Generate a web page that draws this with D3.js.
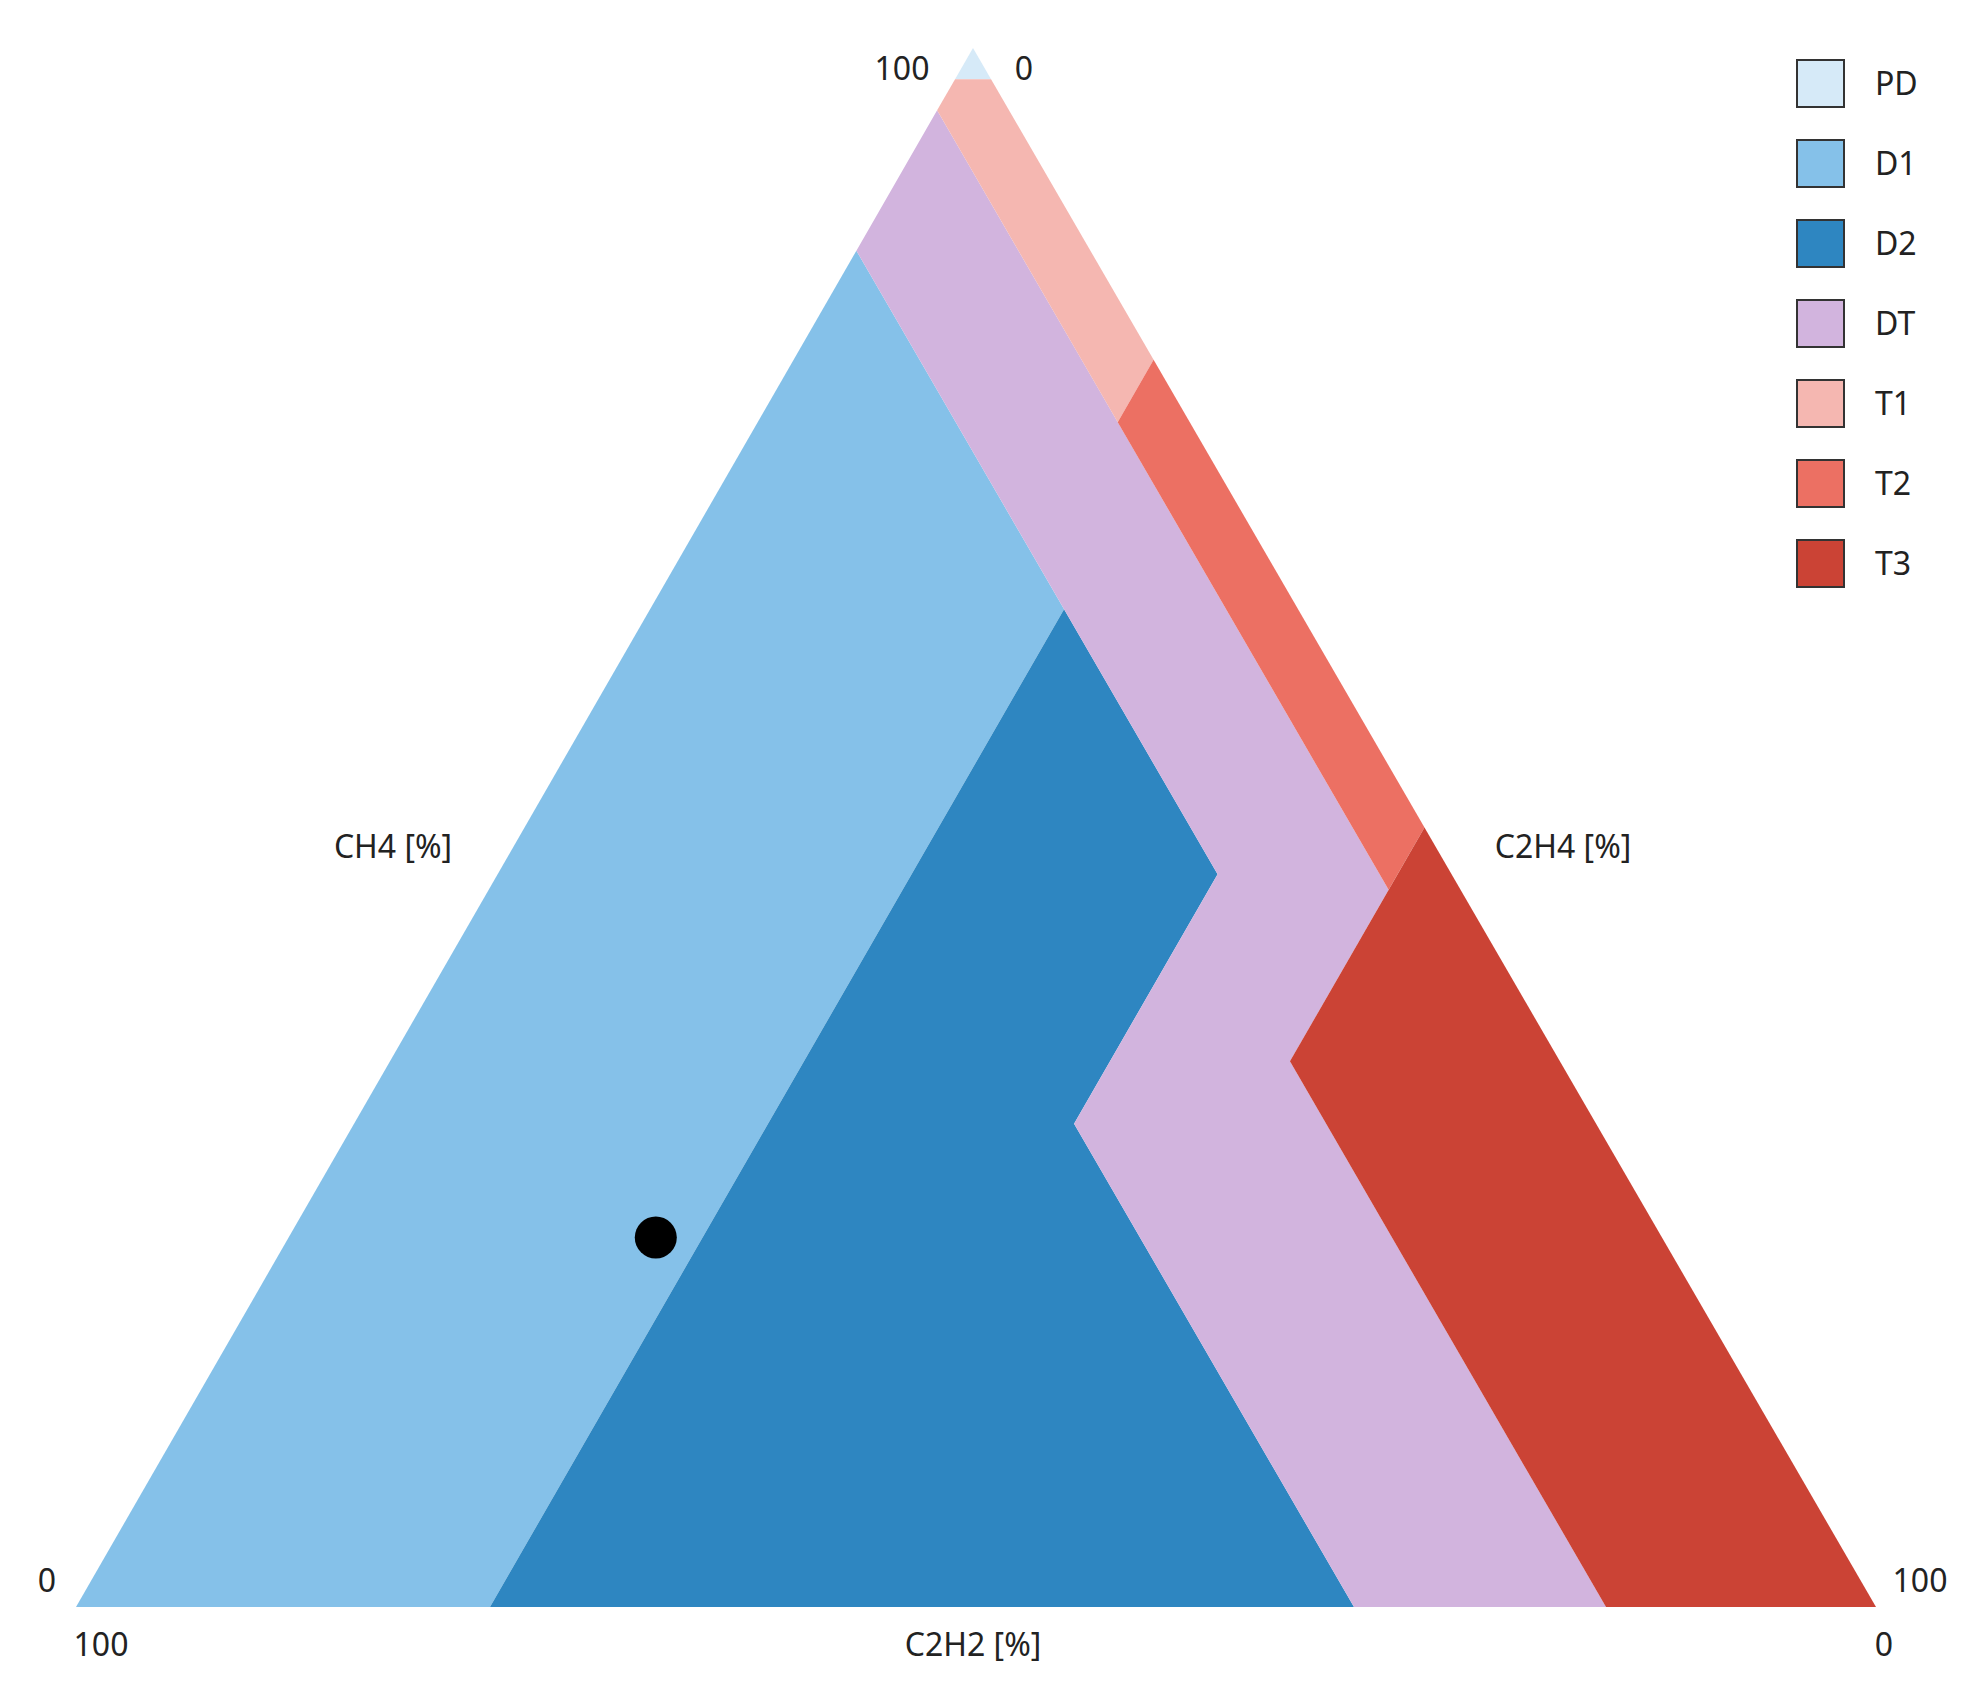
<!DOCTYPE html>
<html><head><meta charset="utf-8">
<script src="https://cdn.jsdelivr.net/npm/d3@7"></script>
<style>body{margin:0;background:#fff}text{font-family:"Noto Sans",sans-serif;fill:#222}</style>
</head><body><svg id="chart" width="1977" height="1690"></svg>
<script>
// zones: vertices as [C2H4, C2H2] in %, CH4 = 100 - both
const zoneNames = ["PD","D1","D2","DT","T1","T2","T3"];
const zoneColors = ["#d6eaf8","#85c1e9","#2e86c1","#d2b4de","#f5b7b1","#ec7063","#cb4335"];
const zonePolys = [
  [[0,0],[2,0],[0,2]],
  [[0,13],[23,13],[23,77],[0,100]],
  [[23,13],[40,13],[40,29],[71,29],[23,77]],
  [[0,4],[50,4],[50,15],[85,15],[71,29],[40,29],[40,13],[0,13]],
  [[2,0],[20,0],[20,4],[0,4],[0,2]],
  [[20,0],[50,0],[50,4],[20,4]],
  [[50,0],[100,0],[85,15],[50,15]]
];
// sample point [CH4, C2H4, C2H2]
const samples = [[23.7,20.4,55.9]];

const apex = [973,48], bl = [76,1607], br = [1876,1607];
const fx = d3.scaleLinear().domain([0,100]).range([0,1]);
function proj(c2h4, c2h2) {
  const a = fx(100 - c2h4 - c2h2), b = fx(c2h4), c = fx(c2h2);
  return [a*apex[0]+b*br[0]+c*bl[0], a*apex[1]+b*br[1]+c*bl[1]];
}
const svg = d3.select("#chart");
svg.selectAll("path.zone").data(zonePolys).enter().append("path")
  .attr("d", p => d3.line()(p.map(v => proj(v[0], v[1]))) + "Z")
  .attr("fill", (p,i) => zoneColors[i]);

svg.selectAll("circle.s").data(samples).enter().append("circle")
  .attr("cx", d => proj(d[1], d[2])[0]).attr("cy", d => proj(d[1], d[2])[1])
  .attr("r", 21).attr("fill", "#000");

const labels = [
  ["100",902,80,"middle"],["0",1024,80,"middle"],
  ["CH4 [%]",393,858,"middle"],["C2H4 [%]",1563,858,"middle"],
  ["C2H2 [%]",973,1656,"middle"],
  ["0",47,1592,"middle"],["100",101,1656,"middle"],
  ["100",1920,1592,"middle"],["0",1884,1656,"middle"]
];
svg.selectAll("text.l").data(labels).enter().append("text")
  .attr("x", d => d[1]).attr("y", d => d[2]).attr("text-anchor", d => d[3])
  .attr("font-size", 32).text(d => d[0]);

const lg = svg.append("g").attr("transform","translate(1797,60)");
zoneNames.forEach((n,i) => {
  lg.append("rect").attr("x",0).attr("y",i*80).attr("width",47).attr("height",47)
    .attr("fill",zoneColors[i]).attr("stroke","#333").attr("stroke-width",2);
  lg.append("text").attr("x",78).attr("y",i*80+35).attr("font-size",32).text(n);
});
</script></body></html>
